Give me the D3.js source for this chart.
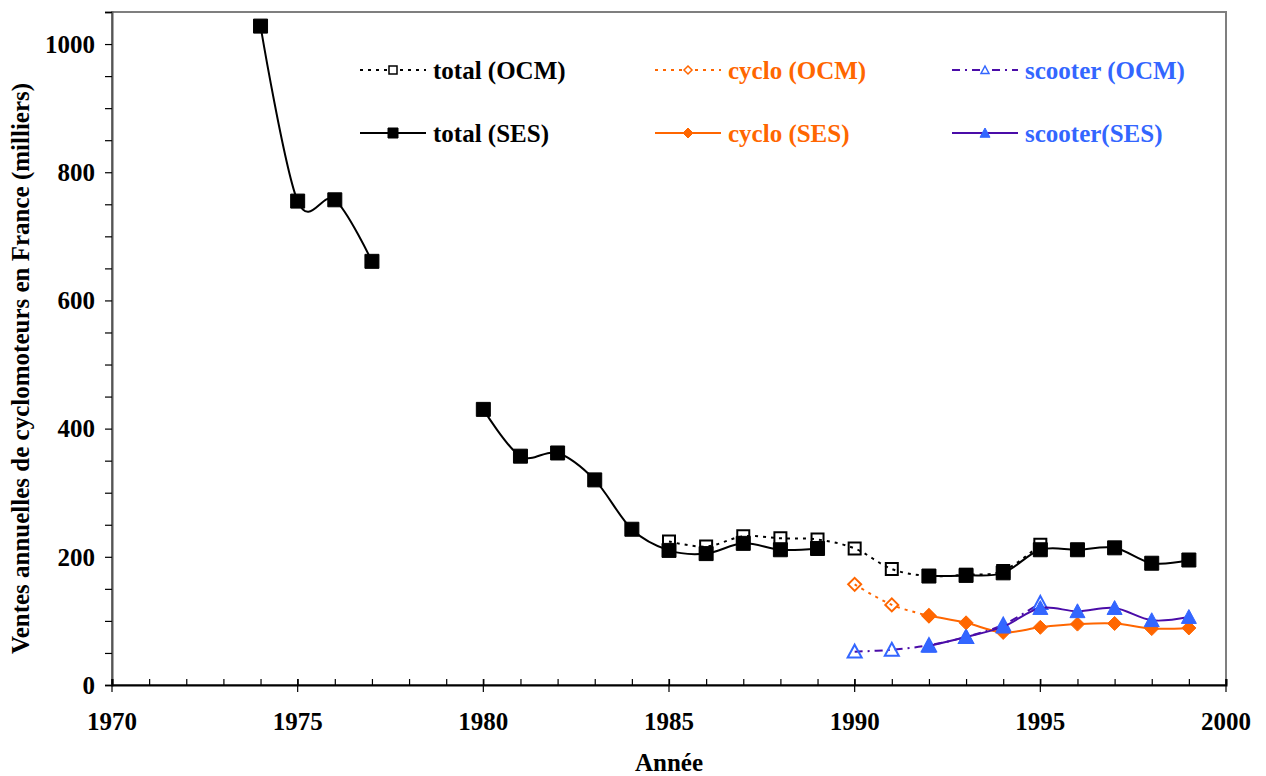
<!DOCTYPE html>
<html>
<head>
<meta charset="utf-8">
<script src="https://cdn.jsdelivr.net/npm/d3@7/dist/d3.min.js"></script>
<style>
  html, body { margin: 0; padding: 0; background: #fff; }
  svg { display: block; font-family: "Liberation Serif", "Times New Roman", serif; font-weight: bold; }
</style>
</head>
<body>
<svg id="chart" width="1266" height="776"></svg>
<script>
// Annual moped sales in France (thousands), two sources: OCM and SES
const years = d3.range(1970, 2001);

const yearsTotalSES = [1974, 1975, 1976, 1977, 1978, 1979, 1980, 1981, 1982, 1983, 1984, 1985, 1986, 1987, 1988, 1989, 1990, 1991, 1992, 1993, 1994, 1995, 1996, 1997, 1998, 1999];
const totalSES      = [1028, 755, 757, 661, null, null, 430, 357, 362, 320, 243, 210, 205, 221, 211, 213, null, null, 170, 171, 175, 211, 211, 214, 190, 195];

const yearsTotalOCM = [1985, 1986, 1987, 1988, 1989, 1990, 1991, 1992, 1993, 1994, 1995];
const totalOCM      = [224, 216, 232, 229, 227, 213, 181, 170, 172, 178, 219];

const yearsCycloOCM = [1990, 1991, 1992];
const cycloOCM      = [157, 125, 108];

const yearsCycloSES = [1992, 1993, 1994, 1995, 1996, 1997, 1998, 1999];
const cycloSES      = [108, 97, 82, 90, 95, 96, 88, 89];

const yearsScooterOCM = [1990, 1991, 1992, 1993, 1994, 1995];
const scooterOCM      = [52, 55, 62, 75, 94, 128];

const yearsScooterSES = [1992, 1993, 1994, 1995, 1996, 1997, 1998, 1999];
const scooterSES      = [61, 75, 91, 120, 115, 120, 101, 106];

const xMajorTicks = [1970, 1975, 1980, 1985, 1990, 1995, 2000];
const yMajorTicks = [0, 200, 400, 600, 800, 1000];

const legendLabels = ["total (OCM)", "cyclo (OCM)", "scooter (OCM)", "total (SES)", "cyclo (SES)", "scooter(SES)"];

// colours
const BLACK = "#000000";
const ORANGE = "#FF6600";
const PURPLE = "#4A0CA8";
const BLUE = "#3366FF";

const svg = d3.select("#chart");
const plot = { left: 112, right: 1226, top: 12, bottom: 685 };

const x = d3.scaleLinear().domain([1970, 2000]).range([plot.left, plot.right]);
const y = d3.scaleLinear().domain([0, 1050]).range([plot.bottom, plot.top]);

// plot frame
svg.append("rect")
  .attr("x", plot.left).attr("y", plot.top)
  .attr("width", plot.right - plot.left).attr("height", plot.bottom - plot.top)
  .attr("fill", "none").attr("stroke", "#7f7f7f").attr("stroke-width", 2);

// y axis: ticks pointing outward, minor every 50
const yAxis = svg.append("g").attr("transform", `translate(${plot.left},0)`);
yAxis.call(d3.axisLeft(y).tickValues(d3.range(0, 1051, 50)).tickSize(7).tickFormat(""))
  .call(g => g.select(".domain").attr("stroke", "#555").attr("stroke-width", 2))
  .call(g => g.selectAll(".tick line").attr("stroke", "#000").attr("stroke-width", 1.2));
yAxis.selectAll(".ylab").data(yMajorTicks).join("text")
  .attr("class", "ylab")
  .attr("x", -17).attr("y", d => y(d)).attr("dy", "0.35em")
  .attr("text-anchor", "end").attr("font-size", 25)
  .attr("font-family", "Liberation Serif, serif").attr("fill", "#000")
  .text(d => d);

// x axis: minor ticks inward each year, major ticks crossing
const xAxis = svg.append("g").attr("transform", `translate(0,${plot.bottom})`);
xAxis.call(d3.axisBottom(x).tickValues(years).tickSize(-6).tickFormat(""))
  .call(g => g.select(".domain").attr("stroke", "#000").attr("stroke-width", 2))
  .call(g => g.selectAll(".tick line").attr("stroke", "#000").attr("stroke-width", 1.2));
xAxis.selectAll(".xmaj").data(xMajorTicks).join("line")
  .attr("class", "xmaj")
  .attr("x1", d => x(d)).attr("x2", d => x(d))
  .attr("y1", -6).attr("y2", 7)
  .attr("stroke", "#000").attr("stroke-width", 1.2);
xAxis.selectAll(".xlab").data(xMajorTicks).join("text")
  .attr("class", "xlab")
  .attr("x", d => x(d)).attr("y", 45)
  .attr("text-anchor", "middle").attr("font-size", 25)
  .attr("font-family", "Liberation Serif, serif").attr("fill", "#000")
  .text(d => d);

// axis titles
svg.append("text")
  .attr("x", (plot.left + plot.right) / 2).attr("y", 771)
  .attr("text-anchor", "middle").attr("font-size", 25).text("Année");
svg.append("text")
  .attr("transform", `translate(29,${(plot.top + plot.bottom) / 2 + 20}) rotate(-90)`)
  .attr("text-anchor", "middle").attr("font-size", 25)
  .text("Ventes annuelles de cyclomoteurs en France (milliers)");

// marker shapes centred on 0,0
function markerPath(shape, s) {
  const h = s / 2;
  if (shape === "square") return `M${-h},${-h}H${h}V${h}H${-h}Z`;
  if (shape === "diamond") return `M0,${-h}L${h},0L0,${h}L${-h},0Z`;
  return `M0,${-h}L${h},${h * 0.85}L${-h},${h * 0.85}Z`;
}

const series = [
  { xs: yearsTotalOCM, vs: totalOCM, line: BLACK, dash: "3,5", shape: "square", size: 12, fill: "none", mstroke: BLACK },
  { xs: yearsCycloOCM, vs: cycloOCM, line: ORANGE, dash: "3,5", shape: "diamond", size: 13, fill: "none", mstroke: ORANGE },
  { xs: yearsScooterOCM, vs: scooterOCM, line: PURPLE, dash: "8,5,2,5", shape: "triangle", size: 14, fill: "none", mstroke: BLUE },
  { xs: yearsTotalSES, vs: totalSES, line: BLACK, dash: null, shape: "square", size: 14, fill: BLACK, mstroke: BLACK },
  { xs: yearsCycloSES, vs: cycloSES, line: ORANGE, dash: null, shape: "diamond", size: 14, fill: ORANGE, mstroke: ORANGE },
  { xs: yearsScooterSES, vs: scooterSES, line: PURPLE, dash: null, shape: "triangle", size: 15, fill: BLUE, mstroke: BLUE }
];

const lineGen = d3.line()
  .defined(d => d[1] !== null)
  .x(d => x(d[0])).y(d => y(d[1]))
  .curve(d3.curveCatmullRom.alpha(0));

series.forEach(s => {
  const pts = s.xs.map((yr, i) => [yr, s.vs[i]]);
  const g = svg.append("g");
  g.append("path")
    .attr("d", lineGen(pts))
    .attr("fill", "none").attr("stroke", s.line).attr("stroke-width", 2)
    .attr("stroke-dasharray", s.dash);
  g.selectAll("path.mk").data(pts.filter(d => d[1] !== null)).join("path")
    .attr("class", "mk")
    .attr("transform", d => `translate(${x(d[0])},${y(d[1])})`)
    .attr("d", markerPath(s.shape, s.size))
    .attr("fill", s.fill).attr("stroke", s.mstroke).attr("stroke-width", s.fill === "none" ? 2 : 1);
});

// legend: three columns, two rows
const legendCols = [360, 655, 952];
const legendRows = [70, 133];
const legendText = [BLACK, ORANGE, BLUE];
series.forEach((s, i) => {
  const col = i % 3, row = Math.floor(i / 3);
  const x0 = legendCols[col], yy = legendRows[row];
  const g = svg.append("g");
  g.append("line")
    .attr("x1", x0).attr("x2", x0 + 66).attr("y1", yy).attr("y2", yy)
    .attr("stroke", s.line).attr("stroke-width", 2).attr("stroke-dasharray", s.dash);
  g.append("path")
    .attr("transform", `translate(${x0 + 33},${yy})`)
    .attr("d", markerPath(s.shape, s.fill === "none" ? 8 : 10))
    .attr("fill", s.fill === "none" ? "#fff" : s.fill)
    .attr("stroke", s.mstroke).attr("stroke-width", s.fill === "none" ? 1.5 : 1);
  g.append("text")
    .attr("x", x0 + 73).attr("y", yy).attr("dy", "0.35em")
    .attr("font-size", 25).attr("fill", legendText[col])
    .text(legendLabels[i]);
});
</script>
</body>
</html>
